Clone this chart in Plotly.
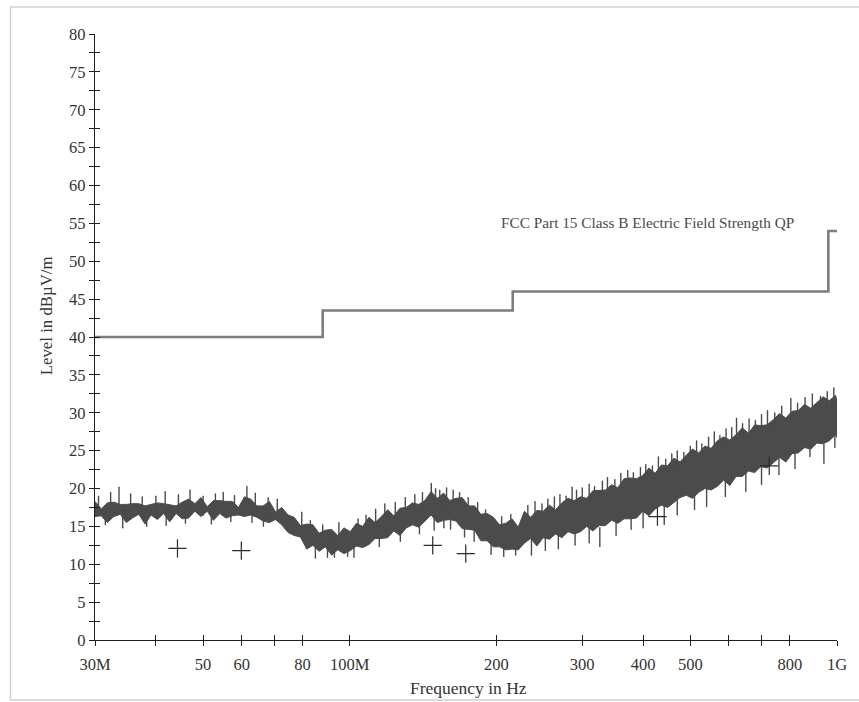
import plotly.graph_objects as go

# ---------------- data ----------------
freq_mhz = [30, 30.9, 31.8, 32.8, 33.8, 34.8, 35.8, 36.9, 38, 39.1, 40.3, 41.5, 42.7, 44, 45.3,
            46.7, 48.1, 49.5, 51, 52.5, 54.1, 55.7, 57.4, 59.1, 60.8, 62.6, 64.5, 66.4, 68.4, 70.4,
            72.5, 74.7, 76.9, 79.2, 81.6, 84, 86.5, 89.1, 91.8, 94.5, 97.3, 100.2, 103.2, 106.3,
            109.5, 112.7, 116.1, 119.6, 123.1, 126.8, 130.6, 134.5, 138.5, 142.6, 146.9, 151.3,
            155.8, 160.4, 165.2, 170.1, 175.2, 180.4, 185.8, 191.4, 197.1, 203, 209, 215.3, 221.7,
            228.3, 235.1, 242.1, 249.4, 256.8, 264.5, 272.4, 280.5, 288.9, 297.5, 306.4, 315.5, 325,
            334.7, 344.7, 355, 365.6, 376.5, 387.7, 399.3, 411.2, 423.5, 436.1, 449.1, 462.5, 476.3,
            490.5, 505.1, 520.2, 535.7, 551.7, 568.2, 585.1, 602.6, 620.6, 639.1, 658.2, 677.8, 698,
            718.8, 740.3, 762.4, 785.1, 808.6, 832.7, 857.6, 883.2, 909.5, 936.7, 964.6, 993.4, 1000]

# upper / lower edge of the dense peak-detector band (dBµV/m)
level_max = [18.3, 17.3, 18.1, 18.2, 17.9, 17.9, 18.0, 18.0, 17.7, 17.9, 18.1, 18.0, 17.9, 17.7, 18.2,
             18.6, 18.0, 18.8, 17.6, 18.4, 18.4, 18.3, 18.3, 17.5, 18.9, 18.6, 17.7, 17.7, 18.3, 16.9,
             17.5, 16.5, 16.2, 15.1, 15.3, 15.2, 14.1, 14.5, 14.6, 13.8, 14.8, 14.3, 15.4, 15.0,
             16.2, 15.5, 16.3, 17.2, 16.4, 17.4, 17.5, 18.1, 17.9, 18.4, 19.6, 18.7,
             19.4, 18.4, 18.7, 18.8, 17.7, 17.7, 16.6, 16.7, 16.2, 15.2, 15.4, 16.0, 14.9,
             17.0, 16.2, 17.1, 17.0, 17.8, 17.2, 18.1, 18.7, 18.4, 18.9, 18.7, 19.7, 19.8,
             19.8, 20.5, 20.1, 21.3, 21.4, 21.3, 21.7, 22.7, 22.0, 23.1, 23.0, 24.0, 23.5,
             24.4, 25.2, 24.7, 25.6, 25.3, 26.3, 26.8, 26.4, 27.1, 28.0, 27.3, 28.4, 28.3,
             28.4, 29.1, 29.9, 29.3, 30.2, 30.3, 31.1, 30.6, 31.4, 32.1, 31.6, 32.3, 31.5]

level_min = [16.3, 16.4, 15.5, 16.3, 16.6, 15.5, 16.1, 16.6, 15.3, 16.5, 15.9, 16.7, 15.6, 16.7, 16.0,
             16.1, 17.0, 16.3, 17.0, 15.8, 16.7, 16.1, 16.4, 16.5, 16.3, 16.5, 16.2, 15.7, 15.5, 15.9,
             15.2, 14.2, 13.8, 13.6, 12.0, 12.5, 11.7, 12.3, 11.2, 11.9, 11.4, 11.8, 12.4, 12.2,
             12.6, 13.4, 13.4, 13.5, 14.4, 13.8, 14.8, 15.2, 14.9, 15.7, 16.5, 15.5,
             15.8, 15.9, 15.7, 14.7, 14.6, 14.5, 13.1, 13.1, 12.3, 12.3, 11.9, 12.0, 11.9,
             12.8, 13.4, 12.4, 13.5, 13.3, 14.0, 13.5, 14.3, 14.0, 14.3, 15.0, 14.4, 15.1,
             15.1, 15.8, 15.4, 16.0, 16.0, 16.1, 17.0, 16.4, 17.3, 17.8, 17.5, 18.2, 18.8,
             19.1, 18.7, 19.5, 20.0, 19.8, 20.3, 21.1, 20.4, 21.6, 21.6, 22.3, 22.1, 22.9,
             22.7, 23.4, 24.1, 23.5, 24.6, 24.7, 25.4, 25.2, 26.0, 25.9, 26.3, 27.1, 26.7]

# isolated narrow peaks above the band and dips below it
peak_freq = [30.5, 32.3, 33.6, 35.5, 37.5, 40, 41.8, 44.5, 47, 50, 53, 55, 58, 61.5, 64, 68, 71,
             79.7, 83, 88, 95, 104, 108, 113, 118, 124, 130, 136, 141, 147, 150, 153, 158, 163,
             168, 175, 183, 190, 205, 214,
             232, 240, 248, 255, 263, 270, 278, 286, 292, 300, 310, 318, 330, 338, 350, 360, 372,
             382, 395, 405, 418, 430, 445, 458, 470, 485, 500, 515, 528, 545, 560, 575, 592, 608,
             622, 640, 660, 680, 700, 720, 745, 770, 804, 830, 860, 890, 925, 955, 985]
peak_level = [19.0, 19.5, 20.2, 19.3, 18.9, 19.0, 19.6, 19.2, 19.8, 19.0, 19.3, 19.5, 19.1, 20.3, 19.4,
              18.8, 18.6, 16.9, 15.8, 15.2, 15.5, 16.0, 16.5, 17.3, 18.0, 18.2, 18.8, 19.2, 19.5,
              20.7, 20.0, 19.8, 20.1, 19.8, 19.5, 18.8, 18.2, 17.2, 16.3, 16.6,
              17.8, 18.3, 18.0, 18.6, 18.9, 19.2, 19.0, 20.2, 19.8, 20.1, 20.6, 20.3, 21.0, 21.5,
              21.2, 22.0, 22.4, 22.1, 22.8, 23.2, 23.0, 24.2, 23.9, 24.6, 25.0, 24.8, 25.6, 26.3,
              25.9, 26.8, 27.5, 27.0, 27.9, 28.1, 29.3, 28.6, 29.2, 29.0, 29.8, 30.3, 30.0, 30.9,
              31.9, 31.3, 32.0, 32.5, 32.2, 32.8, 33.3]

dip_freq = [31.5, 34.2, 38.3, 42, 46, 52, 57, 63, 66.5, 85, 90, 93, 99, 102, 115, 127, 139,
            149, 156, 161, 172, 180, 195, 207, 219,
            236, 252, 268, 290, 310, 326, 352, 378, 400, 442, 470, 510, 540, 590, 650, 700, 760,
            820, 880, 940, 990]
dip_level = [15.2, 14.8, 15.0, 15.1, 15.4, 15.3, 15.6, 15.5, 15.0, 10.8, 10.9, 10.9, 11.0, 10.9,
             12.3, 13.0, 14.0, 14.5, 14.8, 14.6, 13.6, 13.0, 11.3, 11.0, 11.2,
             11.2, 11.8, 12.0, 12.5, 12.8, 12.3, 13.8, 14.6, 14.8, 15.2, 16.5, 17.2, 17.6, 18.9,
             19.6, 20.5, 21.8, 22.6, 24.2, 23.3, 25.4]

limit_freq = [30, 88, 88, 216, 216, 960, 960, 1000]
limit_level = [40, 40, 43.5, 43.5, 46, 46, 54, 54]
limit_name = "FCC Part 15 Class B Electric Field Strength QP"

qp_freq = [44.3, 59.9, 148, 173, 428, 726]
qp_level = [12.1, 11.8, 12.5, 11.4, 16.3, 23.0]

x_tickvals = [30, 40, 50, 60, 70, 80, 100, 200, 300, 400, 500, 600, 700, 800, 1000]
x_ticktext = ["30M", "", "50", "60", "", "80", "100M", "200", "300", "400", "500", "", "", "800", "1G"]

x_title = "Frequency in Hz"
y_title = "Level in dBµV/m"

# ---------------- figure ----------------
FONT = "Liberation Serif"
AXC = "#1e1e1e"
TXT = "#333333"
TRACE_C = "#4b4b4b"

fig = go.Figure()

fig.add_trace(go.Scatter(x=freq_mhz, y=level_min, mode="lines",
                         line=dict(color=TRACE_C, width=1), hoverinfo="skip", showlegend=False))
fig.add_trace(go.Scatter(x=freq_mhz, y=level_max, mode="lines", fill="tonexty",
                         fillcolor=TRACE_C, line=dict(color=TRACE_C, width=1),
                         hoverinfo="skip", showlegend=False))

# narrow peaks (stroke going down into the band) and dips (stroke going up into the band)
fig.add_trace(go.Scatter(x=peak_freq, y=peak_level, mode="markers",
                         marker=dict(size=1, color=TRACE_C),
                         error_y=dict(type="constant", symmetric=False, value=0, valueminus=2.6,
                                      width=0, thickness=1.4, color=TRACE_C),
                         hoverinfo="skip", showlegend=False))
fig.add_trace(go.Scatter(x=dip_freq, y=dip_level, mode="markers",
                         marker=dict(size=1, color=TRACE_C),
                         error_y=dict(type="constant", symmetric=False, value=2.6, valueminus=0,
                                      width=0, thickness=1.4, color=TRACE_C),
                         hoverinfo="skip", showlegend=False))

fig.add_trace(go.Scatter(x=limit_freq, y=limit_level, mode="lines",
                         line=dict(color="#7d7d7d", width=2.6), showlegend=False))

fig.add_trace(go.Scatter(x=qp_freq, y=qp_level, mode="markers",
                         marker=dict(symbol="cross-thin", size=13, color="#2a2a2a",
                                     line=dict(width=1.2, color="#2a2a2a")),
                         showlegend=False))

# empty trace so the overlay axes (inside half of the crossing ticks) get drawn
fig.add_trace(go.Scatter(x=[], y=[], xaxis="x2", yaxis="y2", showlegend=False))

xr = [1.4771212547, 3.0]
yr = [0, 80]

fig.update_layout(
    width=859, height=702,
    margin=dict(l=95, r=17, t=34, b=62),
    paper_bgcolor="white", plot_bgcolor="white",
    font=dict(family=FONT, size=16, color=TXT),
    xaxis=dict(type="log", range=xr, tickvals=x_tickvals, ticktext=x_ticktext,
               showgrid=False, zeroline=False, showline=True, linecolor=AXC, linewidth=1.2,
               ticks="outside", ticklen=5, tickwidth=1.2, tickcolor=AXC, ticklabelstandoff=4,
               tickfont=dict(family=FONT, size=16.5, color=TXT)),
    yaxis=dict(range=yr, tick0=0, dtick=5, showgrid=False, zeroline=False, showline=True,
               linecolor=AXC, linewidth=1.2, ticks="outside", ticklen=5, tickwidth=1.2,
               tickcolor=AXC, tickfont=dict(family=FONT, size=16.5, color=TXT),
               minor=dict(dtick=2.5, tick0=0, ticks="outside", ticklen=5, tickwidth=1.2,
                          tickcolor=AXC, showgrid=False)),
    xaxis2=dict(type="log", range=xr, tickvals=x_tickvals, overlaying="x", anchor="y2",
                showticklabels=False, showgrid=False, zeroline=False, showline=False,
                ticks="inside", ticklen=5, tickwidth=1.2, tickcolor=AXC),
    yaxis2=dict(range=yr, tick0=0, dtick=5, overlaying="y", anchor="x2", side="left",
                showticklabels=False, showgrid=False, zeroline=False, showline=False,
                ticks="inside", ticklen=5, tickwidth=1.2, tickcolor=AXC,
                minor=dict(dtick=2.5, tick0=0, ticks="inside", ticklen=5, tickwidth=1.2,
                           tickcolor=AXC, showgrid=False)),
    annotations=[
        dict(text=limit_name, xref="paper", yref="y", x=0.945, y=55.1,
             xanchor="right", yanchor="middle", showarrow=False,
             font=dict(family=FONT, size=15.3, color="#4a4a4a")),
        dict(text=x_title, xref="paper", yref="paper", x=0.503, y=-0.0792,
             xanchor="center", yanchor="middle", showarrow=False,
             font=dict(family=FONT, size=17.5, color=TXT)),
        dict(text=y_title, xref="paper", yref="paper", x=-0.0643, y=0.5347, textangle=-90,
             xanchor="center", yanchor="middle", showarrow=False,
             font=dict(family=FONT, size=16.8, color=TXT)),
    ],
    shapes=[dict(type="rect", xref="paper", yref="paper", x0=-0.1138, x1=1.05, y0=-0.099, y1=1.0446,
                 line=dict(color="#d0d0d0", width=1.5), layer="below")],
)

fig.write_html("out.html", config={"displayModeBar": False},
               post_script="document.body.style.margin='0';")
